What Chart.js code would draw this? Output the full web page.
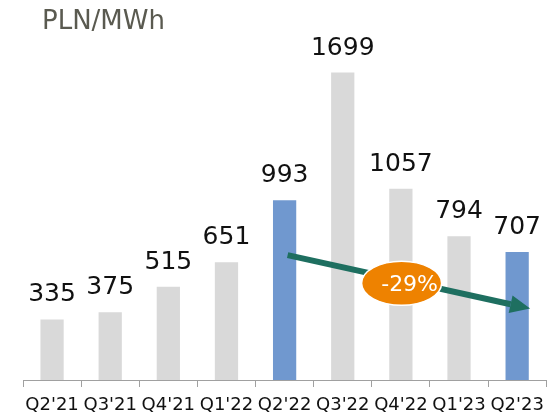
<!DOCTYPE html>
<html>
<head>
<meta charset="utf-8">
<script src="https://cdn.jsdelivr.net/npm/chart.js@4.4.1/dist/chart.umd.min.js"></script>
<style>
  html, body { margin: 0; padding: 0; background: #fff; }
  #wrap { width: 552px; height: 417px; }
</style>
</head>
<body>
<div id="wrap"><canvas id="priceChart"></canvas></div>
<script>
var categories = ["Q2'21", "Q3'21", "Q4'21", "Q1'22", "Q2'22", "Q3'22", "Q4'22", "Q1'23", "Q2'23"];
var prices = [335, 375, 515, 651, 993, 1699, 1057, 794, 707];
var highlighted = ["Q2'22", "Q2'23"];
var unitLabel = "PLN/MWh";

var FONT = "'DejaVu Sans', Verdana, sans-serif";

// change between the two highlighted quarters
var fromIdx = categories.indexOf(highlighted[0]);
var toIdx = categories.indexOf(highlighted[1]);
var change = Math.round((prices[toIdx] / prices[fromIdx] - 1) * 100);

var barColors = categories.map(function (c) {
  return highlighted.indexOf(c) >= 0 ? "#7098cf" : "#d9d9d9";
});

// values above bars + unit caption
var labelsPlugin = {
  id: "valueLabels",
  afterDatasetsDraw: function (chart) {
    var ctx = chart.ctx;
    var meta = chart.getDatasetMeta(0);
    ctx.save();
    ctx.fillStyle = "#111";
    ctx.font = "25px " + FONT;
    ctx.textAlign = "center";
    ctx.textBaseline = "alphabetic";
    meta.data.forEach(function (bar, i) {
      ctx.fillText(String(prices[i]), bar.x, bar.y - 18);
    });
    ctx.fillStyle = "#5a5a50";
    ctx.font = "26px " + FONT;
    ctx.textAlign = "left";
    ctx.fillText(unitLabel, 42, 29);
    ctx.restore();
  }
};

// trend arrow from Q2'22 to Q2'23 with the % badge
var trendPlugin = {
  id: "trendArrow",
  afterDatasetsDraw: function (chart) {
    var ctx = chart.ctx;
    var xs = chart.scales.x, ys = chart.scales.y;
    var x0 = xs.getPixelForValue(fromIdx) + 3, y0 = ys.getPixelForValue(690);
    var x1 = xs.getPixelForValue(toIdx) + 13, y1 = ys.getPixelForValue(395);
    var ang = Math.atan2(y1 - y0, x1 - x0);
    var headLen = 20, headW = 9;
    var bx = x1 - headLen * Math.cos(ang), by = y1 - headLen * Math.sin(ang);

    ctx.save();
    ctx.strokeStyle = "#1e6f60";
    ctx.fillStyle = "#1e6f60";
    ctx.lineWidth = 6;
    ctx.beginPath();
    ctx.moveTo(x0, y0);
    ctx.lineTo(bx, by);
    ctx.stroke();
    ctx.beginPath();
    ctx.moveTo(x1, y1);
    ctx.lineTo(bx + headW * Math.sin(ang), by - headW * Math.cos(ang));
    ctx.lineTo(bx - headW * Math.sin(ang), by + headW * Math.cos(ang));
    ctx.closePath();
    ctx.fill();

    var t = 0.47;
    var cx = x0 + (x1 - x0) * t, cy = y0 + (y1 - y0) * t + 3;
    ctx.beginPath();
    ctx.ellipse(cx, cy, 40, 22, 0, 0, Math.PI * 2);
    ctx.fillStyle = "#ee8200";
    ctx.fill();
    ctx.lineWidth = 1.5;
    ctx.strokeStyle = "#fff";
    ctx.stroke();
    ctx.fillStyle = "#fff";
    ctx.font = "22px " + FONT;
    ctx.textAlign = "center";
    ctx.textBaseline = "middle";
    ctx.fillText(change + "%", cx + 8, cy + 2);
    ctx.restore();
  }
};

new Chart(document.getElementById("priceChart"), {
  type: "bar",
  data: {
    labels: categories,
    datasets: [
      {
        label: unitLabel,
        data: prices,
        backgroundColor: barColors,
        borderWidth: 0,
        barPercentage: 0.4,
        categoryPercentage: 1,
      },
    ],
  },
  options: {
    responsive: true,
    maintainAspectRatio: false,
    animation: false,
    layout: { padding: { left: 23, right: 2, top: 0, bottom: 0 } },
    plugins: {
      legend: { display: false },
      tooltip: { enabled: false },
    },
    scales: {
      x: {
        afterFit: function (scale) {
          scale.height = 37;
        },
        grid: {
          display: true,
          drawOnChartArea: false,
          drawTicks: true,
          tickLength: 7,
          color: "#a0a0a0",
        },
        border: { display: true, color: "#a0a0a0", width: 1 },
        ticks: {
          color: "#111",
          font: { family: FONT, size: 18 },
          padding: 8,
          maxRotation: 0,
          autoSkip: false,
        },
      },
      y: {
        display: false,
        min: 0,
        max: 2100,
      },
    },
  },
  plugins: [labelsPlugin, trendPlugin],
});
</script>
</body>
</html>
